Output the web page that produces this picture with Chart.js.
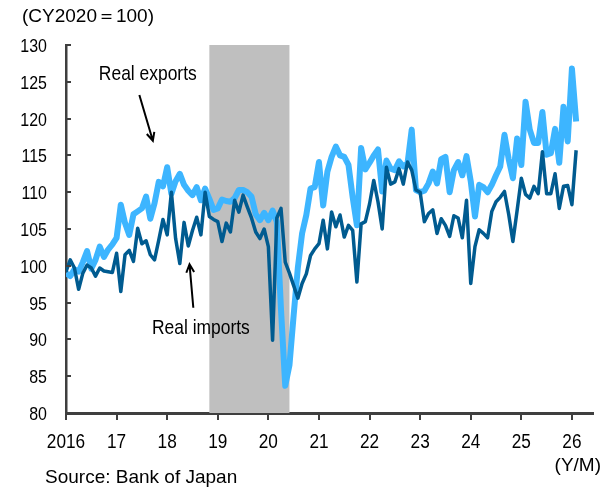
<!DOCTYPE html>
<html>
<head>
<meta charset="utf-8">
<script src="https://cdn.jsdelivr.net/npm/chart.js@4.4.1/dist/chart.umd.min.js"></script>
<style>
  html, body { margin: 0; padding: 0; background: #fff; }
  #wrap { width: 614px; height: 489px; }
</style>
</head>
<body>
<div id="wrap"><canvas id="chart" width="614" height="489"></canvas></div>
<script>
// monthly index, CY2020 = 100, 2016/01 .. 2026/02 (month 0 = 2016/01)
const yearLabels = ['2016', '17', '18', '19', '20', '21', '22', '23', '24', '25', '26'];
const yTicks = [80, 85, 90, 95, 100, 105, 110, 115, 120, 125, 130];

const realExports = [
  99.0, 98.6, 99.5, 99.2, 100.5, 102.0, 99.6, 100.8, 102.6, 101.2, 102.2, 102.9,
  103.8, 108.3, 105.8, 104.2, 107.0, 107.4, 107.8, 109.4, 106.4, 108.5, 111.4, 110.8,
  113.4, 109.8, 111.5, 112.5, 111.0, 110.2, 109.6, 110.7, 108.9, 110.5, 109.1, 107.6,
  107.8, 109.0, 108.8, 108.7, 109.2, 110.3, 110.3, 110.0, 109.4, 107.0, 106.2, 107.2,
  106.2, 107.5, 106.0, 94.0, 83.7, 86.5, 93.3, 99.8, 104.4, 106.9, 110.5, 110.7,
  114.1, 108.2, 112.8, 114.8, 116.2, 115.0, 114.8, 113.7, 109.3, 105.5, 116.0, 113.1,
  114.0, 115.0, 115.8, 110.1, 114.3, 113.2, 113.0, 114.2, 113.5, 113.9, 118.5, 110.3,
  110.0, 110.2, 111.2, 112.8, 111.2, 114.5, 114.8, 110.0, 113.0, 114.1, 112.3, 114.9,
  111.5, 106.7, 111.0, 110.7, 110.0, 111.0, 112.3, 113.5, 117.8, 114.5, 111.9, 117.3,
  113.7, 122.3, 118.5, 116.7, 116.7, 120.9, 115.1, 115.3, 118.6, 114.0, 121.6, 116.9,
  126.8, 119.6
];

const realImports = [
  99.2, 100.8, 99.7, 96.8, 99.0, 100.1, 99.7, 98.6, 99.7, 99.3, 99.2, 99.1,
  101.7, 96.5, 101.5, 102.1, 100.6, 105.1, 103.0, 103.4, 101.5, 100.8, 103.5, 106.3,
  104.2, 110.0, 103.7, 100.3, 105.9, 102.7, 104.8, 106.6, 104.2, 110.0, 106.7, 106.3,
  106.0, 103.3, 105.8, 104.6, 108.9, 107.3, 109.6, 108.0, 106.5, 104.6, 103.7, 105.0,
  102.6, 89.9, 106.5, 107.8, 100.5, 99.0, 97.3, 95.6, 97.6, 98.9, 101.4, 102.3,
  103.0, 106.2, 102.3, 107.3, 105.3, 106.9, 103.9, 105.5, 104.8, 97.8, 105.7, 106.0,
  108.4, 111.6, 108.7, 105.0, 113.4, 111.1, 111.4, 113.2, 111.1, 114.1, 113.0, 110.3,
  110.0, 106.0, 107.1, 107.6, 104.4, 106.4, 105.5, 104.0, 106.8, 106.5, 103.8, 108.9,
  97.6, 102.6, 104.9, 104.4, 103.8, 107.4, 108.7, 109.3, 110.1, 107.0, 103.3, 107.5,
  111.9, 109.7, 109.2, 110.8, 109.8, 115.5, 109.8, 109.8, 112.5, 107.8, 110.8, 110.9,
  108.3, 115.7
];

// recession shading, in months since 2016/01
const shadeFrom = 34;
const shadeTo = 53;

const FONT = "'Liberation Sans', Arial, sans-serif";
const AXIS = '#3f3f3f';

const toPoints = arr => arr.map((v, i) => ({ x: i, y: v }));

// the source uses a narrow face, so squeeze the text horizontally
function narrowText(ctx, text, x, y, align, size, squeeze) {
  ctx.save();
  ctx.font = size + 'px ' + FONT;
  ctx.textAlign = align;
  ctx.textBaseline = 'alphabetic';
  ctx.translate(x, y);
  ctx.scale(squeeze, 1);
  ctx.fillText(text, 0, 0);
  ctx.restore();
}

// grey band behind the lines
const shadePlugin = {
  id: 'shade',
  beforeDatasetsDraw(chart) {
    const { ctx, chartArea, scales } = chart;
    const x0 = scales.x.getPixelForValue(shadeFrom);
    const x1 = scales.x.getPixelForValue(shadeTo);
    ctx.save();
    ctx.fillStyle = '#bfbfbf';
    ctx.fillRect(x0, chartArea.top, x1 - x0, chartArea.bottom - chartArea.top);
    ctx.restore();
  }
};

// inward y ticks + narrow tick labels
const axisPlugin = {
  id: 'axisLabels',
  afterDraw(chart) {
    const { ctx, chartArea, scales } = chart;
    ctx.save();
    ctx.strokeStyle = AXIS;
    ctx.lineWidth = 2;
    ctx.fillStyle = '#000';
    yTicks.forEach(v => {
      const y = Math.round(scales.y.getPixelForValue(v));
      if (v !== 80) {
        ctx.beginPath();
        ctx.moveTo(chartArea.left, y);
        ctx.lineTo(chartArea.left + 5, y);
        ctx.stroke();
      }
      narrowText(ctx, String(v), 47, y + 6.8, 'right', 19, 0.84);
    });
    yearLabels.forEach((lab, i) => {
      const x = scales.x.getPixelForValue(i * 12);
      narrowText(ctx, lab, x, 448, 'center', 20.5, 0.84);
    });
    ctx.restore();
  }
};

function arrow(ctx, x0, y0, x1, y1) {
  const a = Math.atan2(y1 - y0, x1 - x0);
  const h = 9;
  ctx.beginPath();
  ctx.moveTo(x0, y0);
  ctx.lineTo(x1, y1);
  ctx.moveTo(x1 - h * Math.cos(a - 0.45), y1 - h * Math.sin(a - 0.45));
  ctx.lineTo(x1, y1);
  ctx.lineTo(x1 - h * Math.cos(a + 0.45), y1 - h * Math.sin(a + 0.45));
  ctx.stroke();
}

// series names, arrows and notes
const notes = {
  id: 'notes',
  afterDraw(chart) {
    const { ctx, scales } = chart;
    const px = (m, v) => [scales.x.getPixelForValue(m), scales.y.getPixelForValue(v)];
    ctx.save();
    ctx.fillStyle = '#000';
    ctx.strokeStyle = '#000';
    ctx.lineWidth = 2;

    let p = px(19.4, 125.3);
    narrowText(ctx, 'Real exports', p[0], p[1], 'center', 21, 0.83);
    p = px(32.0, 90.8);
    narrowText(ctx, 'Real imports', p[0], p[1], 'center', 21, 0.83);

    let a = px(17.4, 123.2), b = px(20.6, 117.0);
    arrow(ctx, a[0], a[1], b[0], b[1]);
    a = px(30.2, 94.3); b = px(29.3, 100.2);
    arrow(ctx, a[0], a[1], b[0], b[1]);

    ctx.font = '19px ' + FONT;
    ctx.textBaseline = 'middle';
    ctx.textAlign = 'left';
    ctx.fillText('(CY2020\uFF1D100)', 22, 17);
    ctx.fillText('Source: Bank of Japan', 45, 478);
    ctx.textAlign = 'right';
    ctx.fillText('(Y/M)', 601, 466);
    ctx.restore();
  }
};

const chart = new Chart(document.getElementById('chart'), {
  type: 'line',
  data: {
    datasets: [
      {
        label: 'Real imports',
        data: toPoints(realImports),
        borderColor: '#005b90',
        borderWidth: 3.5,
        order: 1
      },
      {
        label: 'Real exports',
        data: toPoints(realExports),
        borderColor: '#3db5ff',
        borderWidth: 6,
        order: 2
      }
    ]
  },
  options: {
    responsive: false,
    animation: false,
    devicePixelRatio: 1,
    layout: { padding: { left: 0, right: 21, top: 45, bottom: 0 } },
    elements: {
      point: { radius: 0 },
      line: { tension: 0, borderJoinStyle: 'round', borderCapStyle: 'butt' }
    },
    plugins: {
      legend: { display: false },
      tooltip: { enabled: false }
    },
    scales: {
      x: {
        type: 'linear',
        min: 0,
        max: 125,
        afterBuildTicks: s => { s.ticks = yearLabels.map((_, i) => ({ value: i * 12 })); },
        afterFit: s => { s.height = 76; },
        ticks: { display: false, callback: v => yearLabels[v / 12] },
        grid: { drawOnChartArea: false, tickLength: 7, color: AXIS, lineWidth: 2 },
        border: { color: AXIS, width: 3 }
      },
      y: {
        min: 80,
        max: 130,
        afterBuildTicks: s => { s.ticks = yTicks.map(v => ({ value: v })); },
        afterFit: s => { s.width = 66; },
        ticks: { display: false },
        grid: { drawOnChartArea: false, drawTicks: false },
        border: { color: AXIS, width: 2.5 }
      }
    }
  },
  plugins: [shadePlugin, axisPlugin, notes]
});
</script>
</body>
</html>
